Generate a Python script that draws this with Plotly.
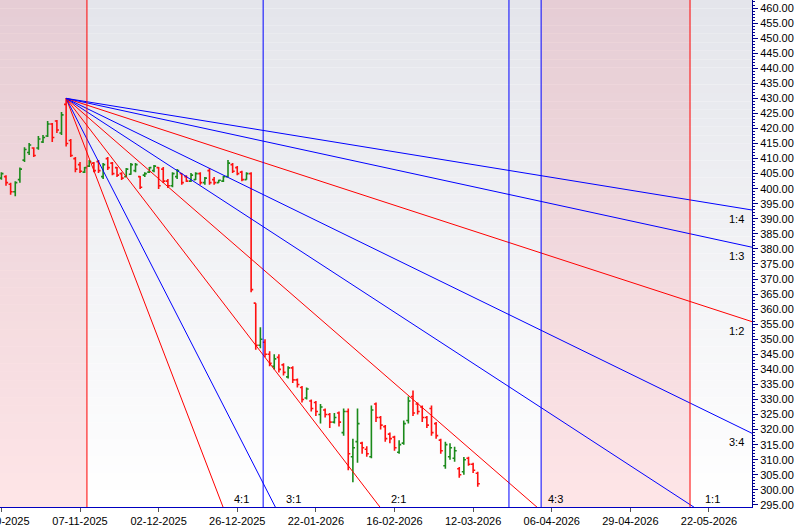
import plotly.graph_objects as go

# ---------------- data ----------------
opens = [403.5,404,401.5,399,403,409.5,412,413.5,413.5,415.5,417.5,421.5,422.5,418.5,428,
         416,410,408,405.5,407.5,408.5,409,404,410,408.5,407,405,404,404.8,406,404,404.5,405.5,406,407,406.5,
         402.5,401,404,405,404,402.5,403,405,402,406,403,402,402.5,404,408,407,405.5,403,
         405,
         362,348,349,345,341,344,341.5,
         337.5,340.5,336.5,334,330.5,329.5,329,325,326.5,325,322.5,325.5,319,326,311,316,315.5,313.5,311,328.5,
         324,321,318.5,317.5,312.5,315.5,323,331,328.5,327.5,324,327,322,316.5,308,311,310.5,307,306,310.5,308.5,305.5]
highs = [405.5,404.5,402,402.5,407,413.8,415.2,413.8,417.5,417.8,422.5,421.8,422.8,425.5,430,
         416.5,410.5,408.9,407.2,409.5,408.9,409.5,408.5,410.5,408.9,407.2,405.5,406.9,408.5,408.5,404.2,405.5,407.2,407.9,407.2,
         407.2,403.2,405.5,406.5,405.2,404.5,405.2,405.5,405.5,403.9,406.9,403.9,403,404.2,409.5,408.5,407.5,406,405.5,
         405.5,
         362,354,350,346,345,345,342,
         341,341,337,334.5,334,330,329.5,328.5,327,325.5,325.5,326,327,327,317,327,316,314.5,328,329,
         324.5,321.5,319,318,316.5,323,331,333,329,328,324.5,328,322.5,317,316,315.5,314.3,307.6,310.9,311,309,306]
lows = [403,401,398,397.5,402,408.9,411.2,410.5,412.9,415.2,417.2,415.5,418.5,417.8,414,
        410.5,405.5,405.2,405.2,407.2,405.5,405.2,403.2,406.2,404.5,403.9,402.9,403.9,404.6,405.5,399.9,403.9,405.2,405.5,399.9,
        401.9,400.2,400.5,403.2,401.3,402.2,402.2,402.9,401.3,401.3,401.3,401.3,402,402.2,403.9,405.2,404.5,402.5,403,
        365.6,
        346.5,347,344,341,340,339,338,
        337,335.5,334,329,330,326,324.5,322,324,320.5,322,321,318,306.5,302.5,309,312,311,310.5,322.5,
        320,316,315.5,313,312,315,322,324.5,325,322.5,320.5,318,317,312,307,310,309.3,304,305,308,305.6,301]
closes = [405,402,399,402,406.5,413,414.5,411,416.5,417,421.5,417,419.5,424.5,415,
          411,406.5,405.8,407,409,406,406,408,407,405,404.5,403.5,406.5,408,408,400.5,405,407,407.5,401,
          402.5,401,405,406,402,402.5,404.5,405,402,403.5,402,402,402.8,404,408.5,405.8,405,403,405,
          366.5,
          348,350,345,342,343.5,340,339,
          340.5,336.5,335,330,333.5,327,326,327.5,325,322.5,324,322.5,326,312,314,322,314,312,326.5,324,
          321.5,317,317,314,315,322,329.5,325.5,326,324,321.5,319,318,313,315,314,313,305,310,308.5,306.5,302]

tick_idx = [0, 17, 34, 51, 68, 85, 102, 119, 136, 153]
tick_text = ["13-10-2025", "07-11-2025", "02-12-2025", "26-12-2025", "22-01-2026",
             "16-02-2026", "12-03-2026", "06-04-2026", "29-04-2026", "22-05-2026"]

pivot_idx = 14
pivot_price = 430.0
unit_per_bar = 1.0
fan_names = ["4:1", "3:1", "2:1", "4:3", "1:1", "3:4", "1:2", "1:3", "1:4"]
fan_ratios = [4, 3, 2, 4/3, 1, 0.75, 0.5, 1/3, 0.25]
fan_colors = ["red", "blue", "red", "red", "blue", "blue", "red", "blue", "blue"]

cycle_x = [18.5, 56.6, 109.75, 116.7, 148.9]
cycle_colors = ["red", "blue", "blue", "blue", "red"]
shade_spans = [(-5, 18.5), (116.7, 148.9)]

X_MIN, X_MAX = -0.30, 162.3
Y_MIN, Y_MAX = 294.3, 462.66

FONT = "Liberation Sans, Arial, sans-serif"

# ---------------- figure ----------------
n = len(opens)
xs = list(range(n))
fig = go.Figure()

fig.add_trace(go.Ohlc(x=xs, open=opens, high=highs, low=lows, close=closes,
                      increasing=dict(line=dict(color="#1a8a1a", width=1.6)),
                      decreasing=dict(line=dict(color="#ff1010", width=1.6)),
                      tickwidth=0.45, hoverinfo="skip"))

x_far = X_MAX + 5
for name, r, c in zip(fan_names, fan_ratios, fan_colors):
    yend = pivot_price - r * unit_per_bar * (x_far - pivot_idx)
    fig.add_trace(go.Scatter(x=[pivot_idx, x_far], y=[pivot_price, yend], mode="lines",
                             line=dict(color=c, width=1), hoverinfo="skip"))
    y_at_edge = pivot_price - r * unit_per_bar * (X_MAX - pivot_idx)
    if y_at_edge > Y_MIN:
        fig.add_annotation(x=X_MAX, y=y_at_edge, text=name, showarrow=False,
                           xanchor="right", yanchor="top", xshift=-6, yshift=-1,
                           font=dict(family=FONT, size=11, color="black"))
    else:
        xb = pivot_idx + (pivot_price - Y_MIN) / (r * unit_per_bar)
        fig.add_annotation(x=xb, y=Y_MIN, text=name, showarrow=False,
                           xanchor="left", yanchor="bottom", xshift=9, yshift=0,
                           font=dict(family=FONT, size=11, color="black"))

shapes = []
nb = 60
top = (228, 229, 235)
bot = (255, 255, 255)
for i in range(nb):
    t = i / (nb - 1)
    col = tuple(round(top[k] + (bot[k] - top[k]) * t) for k in range(3))
    shapes.append(dict(type="rect", xref="paper", yref="paper", x0=0, x1=1,
                       y1=1 - i / nb, y0=1 - (i + 1) / nb, line=dict(width=0),
                       fillcolor="rgb(%d,%d,%d)" % col, layer="below"))
for a, b in shade_spans:
    shapes.append(dict(type="rect", xref="x", yref="paper", x0=a, x1=b, y0=0, y1=1,
                       line=dict(width=0), fillcolor="rgba(245,20,40,0.11)", layer="below"))
for cx, cc in zip(cycle_x, cycle_colors):
    shapes.append(dict(type="line", xref="x", yref="paper", x0=cx, x1=cx, y0=0, y1=1,
                       line=dict(color=cc, width=1)))
shapes.append(dict(type="rect", xref="paper", yref="paper", x0=-0.01, x1=1.06, y0=-0.2, y1=-0.0866,
                   line=dict(width=0), fillcolor="#f0f0f0"))
shapes.append(dict(type="rect", xref="paper", yref="paper", x0=0.901, x1=0.914, y0=-0.2, y1=-0.0826,
                   line=dict(color="#333", width=1), fillcolor="white"))
fig.update_layout(shapes=shapes)

fig.update_layout(
    width=795, height=532, margin=dict(l=0, r=43, t=0, b=25),
    paper_bgcolor="white", plot_bgcolor="white", showlegend=False,
    font=dict(family=FONT, size=11, color="black"),
    xaxis=dict(range=[X_MIN, X_MAX], tickvals=tick_idx, ticktext=tick_text,
               showgrid=False, zeroline=False, showline=True, linecolor="#0000c0", linewidth=1,
               ticks="outside", ticklen=4, tickcolor="#555", automargin=False,
               ticklabeloverflow="allow",
               rangeslider=dict(visible=False), fixedrange=True,
               tickfont=dict(family=FONT, size=11, color="black")),
    yaxis=dict(range=[Y_MIN, Y_MAX], side="right", dtick=5, tick0=0, tickformat=".2f",
               showgrid=False, zeroline=False, showline=True, linecolor="#000090", linewidth=1,
               ticks="outside", ticklen=5, tickcolor="#000090", automargin=False,
               ticklabeloverflow="allow", fixedrange=True,
               minor=dict(dtick=1, ticklen=2, ticks="outside", tickcolor="#000090"),
               tickfont=dict(family=FONT, size=11, color="black")),
)

fig.write_html("out.html", config={"displayModeBar": False},
               post_script="document.body.style.margin='0';document.body.style.overflow='hidden';")
